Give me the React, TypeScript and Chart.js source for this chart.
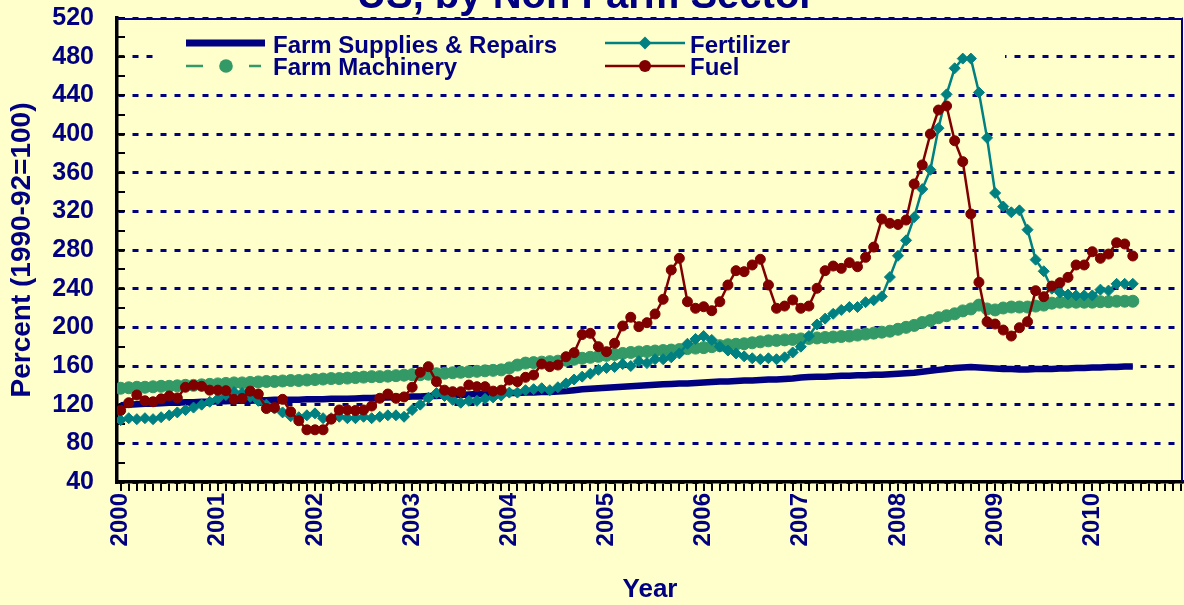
import React, { useEffect, useRef } from 'react';
import { Chart, registerables } from 'chart.js';

Chart.register(...registerables);

// ---- data (monthly, Jan 2000 .. Jun 2010) ----
const yearLabels = ['2000', '2001', '2002', '2003', '2004', '2005', '2006', '2007', '2008', '2009', '2010'];
const yTickValues = [40, 80, 120, 160, 200, 240, 280, 320, 360, 400, 440, 480, 520];

const farmSupplies = [
  119.5, 120, 120.5, 121, 121, 121.5, 122, 122, 122.5, 122.5, 123, 123,
  123.5, 123.5, 124, 124, 124, 124.5, 124.5, 125, 125, 125, 125, 125.5,
  125.5, 125.5, 126, 126, 126, 126.5, 127, 127, 127.5, 127.5, 128, 128,
  128.5, 128.5, 129, 129, 129.5, 130, 130, 130.5, 131, 131, 131.5, 132,
  132, 132, 132.5, 132.5, 133, 133, 133.5, 134, 135, 136, 136.5, 137,
  137.5, 138, 138.5, 139, 139.5, 140, 140.5, 141, 141.5, 142, 142, 142.5,
  143, 143.5, 144, 144, 144.5, 145, 145, 145.5, 146, 146, 146.5, 147,
  148, 148.5, 149, 149, 149.5, 150, 150, 150.5, 150.5, 151, 151, 151.5,
  152, 152.5, 153, 154, 155, 156, 157, 158, 158.5, 159, 158.5, 158,
  157.5, 157, 157, 156.5, 156.5, 157, 157, 157, 157.5, 157.5, 158, 158,
  158.5, 158.5, 159, 159, 159.5, 159.5,
];

const farmMachinery = [
  137, 137.5, 138, 138, 138.5, 139, 139, 139.5, 140, 140, 140.5, 141,
  141.5, 142, 142.5, 142.5, 143, 143.5, 144, 144, 144.5, 145, 145, 145.5,
  146, 146.5, 147, 147, 147.5, 148, 148.5, 149, 149, 149.5, 150, 150.5,
  151, 151, 151.5, 152, 152.5, 153, 153.5, 154, 154.5, 155, 155.5, 156,
  158, 161, 163, 163.5, 164, 164.5, 165, 166, 167, 168, 169, 170,
  171, 172, 173, 174, 174.5, 175, 175.5, 176, 176.5, 177, 178, 178.5,
  179, 180, 181, 182, 182.5, 183, 184, 185, 186, 186.5, 187, 187.5,
  188, 188.5, 189, 189.5, 190, 190.5, 191, 192, 193, 194, 195, 196,
  198, 200, 202, 205, 207, 210, 212, 214, 217, 219, 223, 219,
  218, 220, 221, 221, 221, 222, 223, 225, 226, 226, 226, 226,
  226, 226.5, 226.5, 227, 227, 227,
];

const fertilizer = [
  104, 106, 105, 106, 105, 107, 109, 112, 114.5, 117, 120, 123,
  126, 130, 133, 132, 128, 124, 120, 116, 112, 108, 107, 109,
  111, 106, 106, 107.5, 106, 106, 107.5, 106, 107.5, 109, 109, 107.5,
  114.5, 120, 127, 132, 129, 125, 122, 124, 124, 126, 127.5, 129.5,
  132.5, 132.5, 135, 136, 137, 135, 138, 142, 146, 149, 152, 156,
  158, 159, 162, 160, 165, 163, 167, 167, 169, 173, 183, 188,
  191, 187, 180, 176, 173, 170, 168, 167, 168, 167, 169, 174,
  180, 191, 203, 209, 214, 218, 221, 221, 226, 228, 232, 252,
  274, 290, 314, 343, 363, 406, 441, 468, 478, 478, 443, 396,
  339, 325, 319, 321, 301, 270, 258, 240, 236, 234, 233, 233,
  233, 239, 238, 245, 245, 245,
];

const fuel = [
  114, 122, 130, 124, 123, 126, 129, 127, 138, 140, 139, 135,
  135, 134.5, 125.5, 126.5, 134, 131, 116, 117, 125.5, 112.7, 103.4, 94,
  94, 94, 105, 114.5, 114.5, 114, 114.5, 118.6, 126.6, 131, 126.6, 128,
  138, 153.5, 159.3, 143.8, 135, 133.4, 133.4, 140.3, 138.6, 138.6, 134, 135,
  145.5, 143.8, 148.3, 150.7, 162, 159.3, 161, 169.6, 173.8, 192.5, 193.8, 180,
  174.8, 183.5, 201.4, 210.4, 200.7, 204.8, 213.8, 229, 259.3, 271.4, 226.5, 219.7,
  221.3, 217.2, 226.5, 243.8, 258.6, 257.6, 264.5, 270.4, 243.8, 219.7, 222, 228.3,
  219.7, 222, 240.4, 258.6, 263.4, 261, 266.9, 262.7, 272.4, 283, 312, 307.6,
  306.4, 311, 348.3, 368, 400, 424.8, 429, 393, 371.4, 317.2, 246.6, 205.8,
  203.4, 197.2, 191, 199.6, 205.8, 237.9, 231.7, 242.7, 246.2, 251.7, 264.5, 264.5,
  278.2, 271.4, 275.8, 287.5, 286.2, 273.8,
];

// ---- styles ----
const BG = '#FFFFCC';
const NAVY = '#000080';
const GREEN = '#339966';
const TEAL = '#008080';
const MAROON = '#800000';
const FONT = '"Liberation Sans", Arial, sans-serif';

const toPoints = (arr: number[]) => arr.map((v, i) => ({ x: i, y: v }));

const zeroPadding = (s: any) => {
  s.paddingTop = 0;
  s.paddingBottom = 0;
  s.paddingLeft = 0;
  s.paddingRight = 0;
};

const decorPlugin = {
  id: 'decor',
  beforeDraw(chart: any) {
    const { ctx, width, height } = chart;
    ctx.save();
    ctx.fillStyle = BG;
    ctx.fillRect(0, 0, width, height);
    ctx.restore();
  },
  beforeDatasetsDraw(chart: any) {
    const { ctx, chartArea, scales } = chart;
    ctx.save();
    // legend box hides the grid lines behind it
    ctx.fillStyle = BG;
    ctx.fillRect(153, 21, 852, 58);
    // inner minor ticks on value axis
    ctx.strokeStyle = '#000';
    ctx.lineWidth = 2;
    for (let v = 40; v <= 520; v += 20) {
      const y = Math.round(scales.y.getPixelForValue(v));
      ctx.beginPath();
      ctx.moveTo(chartArea.left, y);
      ctx.lineTo(chartArea.left + 8, y);
      ctx.stroke();
    }
    // top & right frame
    ctx.strokeStyle = NAVY;
    ctx.lineWidth = 2;
    ctx.beginPath();
    ctx.moveTo(chartArea.left, chartArea.top + 1);
    ctx.lineTo(chartArea.right - 1, chartArea.top + 1);
    ctx.lineTo(chartArea.right - 1, chartArea.bottom);
    ctx.stroke();
    ctx.restore();
  },
  afterDraw(chart: any) {
    const { ctx } = chart;
    ctx.save();
    // title (cut off at the top)
    ctx.fillStyle = NAVY;
    ctx.font = `bold 40px ${FONT}`;
    ctx.textAlign = 'center';
    ctx.textBaseline = 'alphabetic';
    ctx.fillText('US, by Non Farm Sector', 586, 8);

    // legend
    ctx.font = `bold 24px ${FONT}`;
    ctx.textAlign = 'left';
    const r1 = 43;
    const r2 = 66;
    // Farm Supplies & Repairs
    ctx.strokeStyle = NAVY;
    ctx.lineWidth = 7;
    ctx.beginPath();
    ctx.moveTo(186, r1);
    ctx.lineTo(265, r1);
    ctx.stroke();
    ctx.fillText('Farm Supplies & Repairs', 273, 53);
    // Farm Machinery
    ctx.strokeStyle = GREEN;
    ctx.lineWidth = 2.5;
    ctx.beginPath();
    ctx.moveTo(186, r2);
    ctx.lineTo(203, r2);
    ctx.moveTo(249, r2);
    ctx.lineTo(261, r2);
    ctx.stroke();
    ctx.fillStyle = GREEN;
    ctx.beginPath();
    ctx.arc(226, r2, 6.8, 0, Math.PI * 2);
    ctx.fill();
    ctx.fillStyle = NAVY;
    ctx.fillText('Farm Machinery', 273, 75);
    // Fertilizer
    ctx.strokeStyle = TEAL;
    ctx.lineWidth = 2.5;
    ctx.beginPath();
    ctx.moveTo(605, r1);
    ctx.lineTo(685, r1);
    ctx.stroke();
    ctx.fillStyle = TEAL;
    ctx.beginPath();
    ctx.moveTo(645, r1 - 6.5);
    ctx.lineTo(651.5, r1);
    ctx.lineTo(645, r1 + 6.5);
    ctx.lineTo(638.5, r1);
    ctx.closePath();
    ctx.fill();
    ctx.fillStyle = NAVY;
    ctx.fillText('Fertilizer', 690, 53);
    // Fuel
    ctx.strokeStyle = MAROON;
    ctx.beginPath();
    ctx.moveTo(605, r2);
    ctx.lineTo(685, r2);
    ctx.stroke();
    ctx.fillStyle = MAROON;
    ctx.beginPath();
    ctx.arc(645, r2, 6, 0, Math.PI * 2);
    ctx.fill();
    ctx.fillStyle = NAVY;
    ctx.fillText('Fuel', 690, 75);
    ctx.restore();
  },
};

export default function App() {
  const canvasRef = useRef<HTMLCanvasElement | null>(null);

  useEffect(() => {
    const canvas = canvasRef.current;
    if (!canvas) return;
    const chart = new Chart(canvas, {
      type: 'line',
      data: {
        datasets: [
          {
            label: 'Fuel',
            data: toPoints(fuel),
            borderColor: MAROON,
            backgroundColor: MAROON,
            borderWidth: 2.5,
            pointStyle: 'circle',
            pointRadius: 5,
            pointBorderWidth: 1,
            pointBackgroundColor: MAROON,
            pointBorderColor: MAROON,
            tension: 0,
            order: 0,
          },
          {
            label: 'Fertilizer',
            data: toPoints(fertilizer),
            borderColor: TEAL,
            backgroundColor: TEAL,
            borderWidth: 2.5,
            pointStyle: 'rectRot',
            pointRadius: 5.5,
            pointBorderWidth: 1,
            pointBackgroundColor: TEAL,
            pointBorderColor: TEAL,
            tension: 0,
            order: 1,
          },
          {
            label: 'Farm Machinery',
            data: toPoints(farmMachinery),
            borderColor: GREEN,
            backgroundColor: GREEN,
            borderWidth: 2.5,
            borderDash: [12, 6],
            pointStyle: 'circle',
            pointRadius: 6,
            pointBorderWidth: 1,
            pointBackgroundColor: GREEN,
            pointBorderColor: GREEN,
            tension: 0,
            order: 2,
          },
          {
            label: 'Farm Supplies & Repairs',
            data: toPoints(farmSupplies),
            borderColor: NAVY,
            backgroundColor: NAVY,
            borderWidth: 6.5,
            pointRadius: 0,
            tension: 0,
            order: 3,
          },
        ],
      },
      options: {
        responsive: false,
        animation: false,
        devicePixelRatio: 1,
        layout: { padding: { top: 18, right: 2, left: 0, bottom: 0 } },
        plugins: {
          legend: { display: false },
          title: { display: false },
          tooltip: { enabled: false },
        },
        scales: {
          x: {
            type: 'linear',
            min: -0.45,
            max: 131.2,
            afterFit: (s: any) => {
              s.height = 123;
              zeroPadding(s);
            },
            border: { display: true, color: '#000', width: 3.5 },
            grid: {
              display: true,
              drawOnChartArea: false,
              drawTicks: true,
              tickLength: 9,
              color: '#000',
              lineWidth: 2,
            },
            ticks: {
              stepSize: 1,
              autoSkip: false,
              includeBounds: false,
              minRotation: 90,
              maxRotation: 90,
              padding: 2,
              color: NAVY,
              font: { family: FONT, size: 24, weight: 'bold' },
              callback: (v: any) => {
                const n = Number(v);
                return n % 12 === 0 ? yearLabels[n / 12] ?? '' : '';
              },
            },
            title: {
              display: true,
              text: 'Year',
              color: NAVY,
              font: { family: FONT, size: 26, weight: 'bold' },
              padding: { top: 0, bottom: 0 },
            },
          },
          y: {
            type: 'linear',
            min: yTickValues[0],
            max: yTickValues[yTickValues.length - 1],
            afterFit: (s: any) => {
              s.width = 117;
              zeroPadding(s);
            },
            afterBuildTicks: (s: any) => {
              s.ticks = yTickValues.map((v) => ({ value: v }));
            },
            border: { display: true, color: '#000', width: 3.5, dash: [6, 8] },
            grid: { display: true, color: NAVY, lineWidth: 3, drawTicks: false },
            ticks: {
              padding: 23,
              color: NAVY,
              font: { family: FONT, size: 25, weight: 'bold' },
            },
            title: {
              display: true,
              text: 'Percent (1990-92=100)',
              color: NAVY,
              font: { family: FONT, size: 28, weight: 'bold' },
              padding: { top: 5, bottom: 0 },
            },
          },
        },
      } as any,
      plugins: [decorPlugin],
    });
    return () => chart.destroy();
  }, []);

  return (
    <div
      style={{
        position: 'fixed',
        left: 0,
        top: 0,
        width: 1184,
        height: 605,
        overflow: 'hidden',
        background: BG,
      }}
    >
      <canvas ref={canvasRef} width={1190} height={605} style={{ display: 'block' }} />
    </div>
  );
}
